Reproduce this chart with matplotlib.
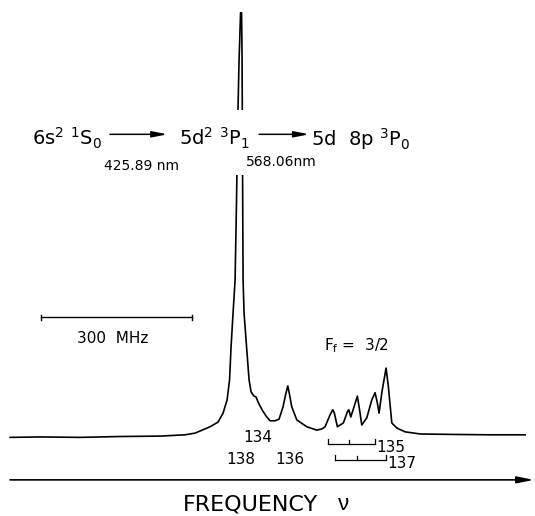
import numpy as np
import matplotlib
matplotlib.use("Agg")
import matplotlib.pyplot as plt
from matplotlib.patches import Rectangle

freq_mhz = [-457.0, -397.4, -317.9, -238.4, -159.0, -109.3, -89.4, -79.5, -59.6, -43.7,
            -33.8, -25.8, -20.9, -17.9, -13.9, -9.9, -7.0, -5.0, -2.0, 1.0,
            3.0, 4.0, 4.6, 5.2, 6.0, 7.9, 12.9, 17.9, 21.9, 27.8,
            31.8, 35.8, 43.7, 51.7, 59.6, 69.5, 77.5, 85.4, 90.4, 94.8,
            98.4, 102.7, 112.7, 132.5, 152.4, 162.9, 168.9, 178.8, 184.2, 187.4,
            193.3, 205.3, 213.2, 216.0, 220.0, 226.5, 233.1, 238.4, 241.8, 251.8,
            261.7, 268.2, 272.8, 276.2, 281.6, 290.1, 294.7, 301.5, 311.4, 327.9,
            357.7, 417.3, 496.8, 566.3]
signal = [-0.1, 0.0, -0.1, 0.1, 0.2, 0.5, 0.9, 1.4, 2.4, 3.5,
          5.6, 8.7, 13.4, 21.2, 29.2, 36.9, 55.8, 72.2, 88.7, 99.8,
          99.8, 88.7, 72.2, 55.8, 36.9, 29.2, 21.2, 13.4, 10.6, 9.6,
          9.4, 8.2, 6.4, 4.9, 3.8, 3.8, 4.2, 7.1, 9.9, 12.0,
          9.9, 7.1, 4.0, 2.4, 1.6, 1.9, 2.4, 5.2, 6.4, 5.6,
          2.4, 3.3, 5.9, 6.4, 4.7, 7.1, 9.6, 5.6, 2.8, 4.5,
          8.7, 10.4, 8.0, 5.6, 10.4, 16.2, 11.8, 3.3, 2.1, 1.2,
          0.7, 0.6, 0.5, 0.5]

# isotope labels (mass number, position in MHz, height)
iso_labels = ["134", "138", "136"]
iso_freq = [35.8, 2.0, 99.4]
iso_y = [-0.2, -5.2, -5.2]

# hyperfine brackets for the odd isotopes: (left, middle, right) components
odd_isotopes = ["135", "137"]
odd_comp = [[174.9, 216.6, 268.2], [188.8, 232.5, 290.1]]
odd_y = [-1.65, -5.4]

scale_mhz = 300
wavelengths = ["425.89 nm", "568.06nm"]

fig = plt.figure(figsize=(5.35, 5.16), dpi=100)
ax = fig.add_axes([0, 0, 1, 1])
ax.set_xlim(-477, 586)
ax.set_ylim(-18.6, 102.8)
ax.axis("off")

ax.plot(freq_mhz, signal, color="black", lw=1.2, zorder=1)

# blank out the peak where the level scheme is written over it
ax.add_patch(Rectangle((-25, 61.6), 50, 15.3, facecolor="white", edgecolor="none", zorder=2))

fs = 14
ax.text(-412.5, 68.5, r"$\mathrm{6s^2\ {}^1S_0}$", fontsize=fs, va="baseline", zorder=3)
ax.text(-121.2, 68.5, r"$\mathrm{5d^2\ {}^3P_1}$", fontsize=fs, va="baseline", zorder=3)
ax.text(141.0, 68.5, r"$\mathrm{5d\ \ 8p\ {}^3P_0}$", fontsize=fs, va="baseline", zorder=3)
arrow = dict(arrowstyle="-|>,head_length=0.9,head_width=0.18", color="black", lw=1.1,
             shrinkA=0, shrinkB=0, mutation_scale=10)
ax.annotate("", xy=(-144.6, 71.2), xytext=(-258.5, 71.2), arrowprops=arrow, zorder=3)
ax.annotate("", xy=(137.1, 71.2), xytext=(37.8, 71.2), arrowprops=arrow, zorder=3)
ax.text(-270.2, 63.8, wavelengths[0], fontsize=10, va="center", zorder=3)
ax.text(11.9, 64.6, wavelengths[1], fontsize=10, va="center", zorder=3)

# 300 MHz scale bar
x0 = -395.4
ax.plot([x0, x0 + scale_mhz], [28.2, 28.2], color="black", lw=1.0)
for xe in (x0, x0 + scale_mhz):
    ax.plot([xe, xe], [27.6, 28.8], color="black", lw=1.0)
ax.text(x0 + scale_mhz / 2 - 8, 23.1, f"{scale_mhz}  MHz", fontsize=11, ha="center", va="center")

ax.text(166.9, 21.5, r"$\mathrm{F_f}$ =  3/2", fontsize=11, ha="left", va="center")

for lab, f, y in zip(iso_labels, iso_freq, iso_y):
    ax.text(f, y, lab, fontsize=11, ha="center", va="center")

for lab, comp, y in zip(odd_isotopes, odd_comp, odd_y):
    ax.plot([comp[0], comp[2]], [y, y], color="black", lw=0.9)
    for c in comp:
        ax.plot([c, c], [y, y + (0.9 if c == comp[1] else 1.2)], color="black", lw=0.9)
    ax.text(comp[2] + 2, y - 0.9, lab, fontsize=11, ha="left", va="center")

# frequency axis
ax.annotate("", xy=(584, -10.1), xytext=(-457, -10.1),
            arrowprops=dict(arrowstyle="-|>,head_length=1.0,head_width=0.2", color="black",
                            lw=1.2, shrinkA=0, shrinkB=0, mutation_scale=10))
ax.text(20, -16.0, "FREQUENCY", fontsize=16, ha="center", va="center")
ax.text(206, -16.0, "ν", fontsize=16, ha="center", va="center", family="Liberation Sans")

fig.savefig("out.png", dpi=100, facecolor="white")
